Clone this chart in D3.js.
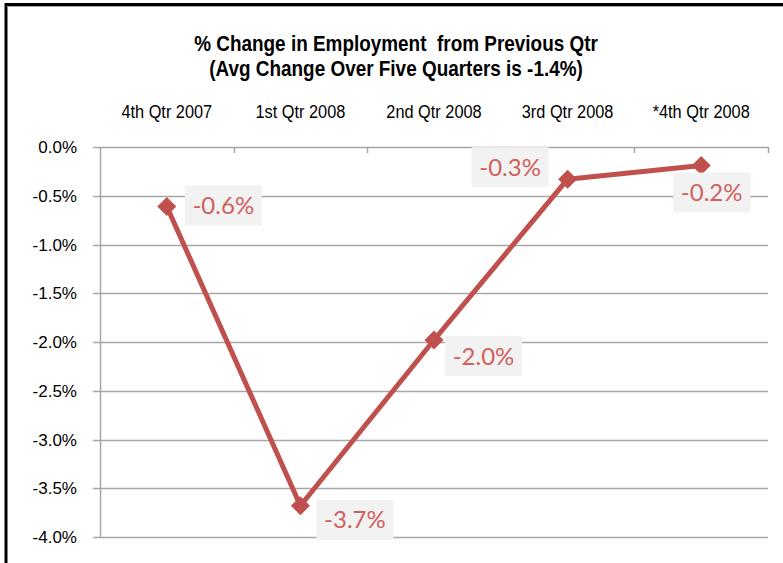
<!DOCTYPE html>
<html>
<head>
<meta charset="utf-8">
<script src="https://cdn.jsdelivr.net/npm/d3@7"></script>
<style>
  body { margin: 0; background: #fff; }
  svg { display: block; }
  text { white-space: pre; }
</style>
</head>
<body>
<svg id="chart" width="783" height="563"></svg>
<script>
// Chart data
const quarters = ['4th Qtr 2007', '1st Qtr 2008', '2nd Qtr 2008', '3rd Qtr 2008', '*4th Qtr 2008'];
const pctChange = [-0.61, -3.68, -1.98, -0.33, -0.19];
const yTicks = [0, -0.5, -1.0, -1.5, -2.0, -2.5, -3.0, -3.5, -4.0];
const titleLines = ['% Change in Employment  from Previous Qtr', '(Avg Change Over Five Quarters is -1.4%)'];

// Label box placement relative to each point (left, top of box)
const labelOffsets = [[18, -21], [16, -6], [11, -4], [-96, -32], [-28, 7]];

const svg = d3.select('#chart');
const red = '#c0504d';
const margin = { left: 100, right: 768, top: 147, bottom: 537 };
const fmt = d => d.toFixed(1) + '%';   // plain hyphen minus like the original

// outer frame (left and top edges only show in the crop)
svg.append('path')
    .attr('d', 'M6,563 V4.5 H783')
    .attr('fill', 'none')
    .attr('stroke', '#000')
    .attr('stroke-width', 3);
svg.append('line')
    .attr('x1', 7).attr('x2', 783).attr('y1', 6.5).attr('y2', 6.5)
    .attr('stroke', '#aaa').attr('stroke-width', 1);

const x = d3.scaleBand().domain(quarters).range([margin.left, margin.right]);
const y = d3.scaleLinear().domain([0, -4]).range([margin.top, margin.bottom]);

// title (condensed look)
svg.append('g').selectAll('text')
    .data(titleLines)
    .enter()
    .append('text')
    .attr('transform', (d, i) => `translate(396,${51 + i * 25}) scale(0.88,1)`)
    .attr('text-anchor', 'middle')
    .attr('font-family', '"Liberation Sans", Arial, sans-serif')
    .attr('font-weight', 'bold')
    .attr('font-size', 21.5)
    .attr('fill', '#000')
    .text(d => d);

// gridlines
svg.append('g').selectAll('line')
    .data(yTicks)
    .enter()
    .append('line')
    .attr('x1', margin.left - 7)
    .attr('x2', margin.right)
    .attr('y1', d => Math.round(y(d)) + 0.5)
    .attr('y2', d => Math.round(y(d)) + 0.5)
    .attr('stroke', '#a6a6a6')
    .attr('stroke-width', 1.5);

// y axis line
svg.append('line')
    .attr('x1', margin.left + 0.5).attr('x2', margin.left + 0.5)
    .attr('y1', margin.top).attr('y2', margin.bottom)
    .attr('stroke', '#a6a6a6')
    .attr('stroke-width', 1.5);

// category tick marks at boundaries on the zero line
const bounds = quarters.map(q => x(q)).concat([margin.right]);
svg.append('g').selectAll('line')
    .data(bounds.slice(1))
    .enter()
    .append('line')
    .attr('x1', d => Math.round(d) + 0.5)
    .attr('x2', d => Math.round(d) + 0.5)
    .attr('y1', margin.top)
    .attr('y2', margin.top + 6)
    .attr('stroke', '#a6a6a6')
    .attr('stroke-width', 1.5);

// y tick labels
svg.append('g').selectAll('text')
    .data(yTicks)
    .enter()
    .append('text')
    .attr('x', 77)
    .attr('y', d => y(d) + 6)
    .attr('text-anchor', 'end')
    .attr('font-family', '"Liberation Sans", Arial, sans-serif')
    .attr('font-size', 17)
    .attr('fill', '#000')
    .text(fmt);

// category labels on top
svg.append('g').selectAll('text')
    .data(quarters)
    .enter()
    .append('text')
    .attr('transform', d => `translate(${x(d) + x.bandwidth() / 2},118) scale(0.86,1)`)
    .attr('text-anchor', 'middle')
    .attr('font-family', '"Liberation Sans", Arial, sans-serif')
    .attr('font-size', 19)
    .attr('fill', '#000')
    .text(d => d);

// series line
const line = d3.line()
    .x((d, i) => x(quarters[i]) + x.bandwidth() / 2)
    .y(d => y(d));
svg.append('path')
    .datum(pctChange)
    .attr('d', line)
    .attr('fill', 'none')
    .attr('stroke', red)
    .attr('stroke-width', 5)
    .attr('stroke-linejoin', 'round');

// diamond markers
svg.append('g').selectAll('path')
    .data(pctChange)
    .enter()
    .append('path')
    .attr('transform', (d, i) => `translate(${x(quarters[i]) + x.bandwidth() / 2},${y(d)})`)
    .attr('d', d3.symbol().type(d3.symbolDiamond2).size(230))
    .attr('fill', red);

// data labels
const labels = svg.append('g').selectAll('g')
    .data(pctChange)
    .enter()
    .append('g')
    .attr('transform', (d, i) => {
        const px = x(quarters[i]) + x.bandwidth() / 2 + labelOffsets[i][0];
        const py = y(d) + labelOffsets[i][1];
        return `translate(${px},${py})`;
    });
labels.append('rect')
    .attr('width', 77)
    .attr('height', 40)
    .attr('fill', '#f2f2f2');
labels.append('text')
    .attr('x', 38.5)
    .attr('y', 28.5)
    .attr('text-anchor', 'middle')
    .attr('font-family', 'Lato, "Open Sans", sans-serif')
    .attr('font-size', 24)
    .attr('fill', '#d0605d')
    .text(fmt);
</script>
</body>
</html>
